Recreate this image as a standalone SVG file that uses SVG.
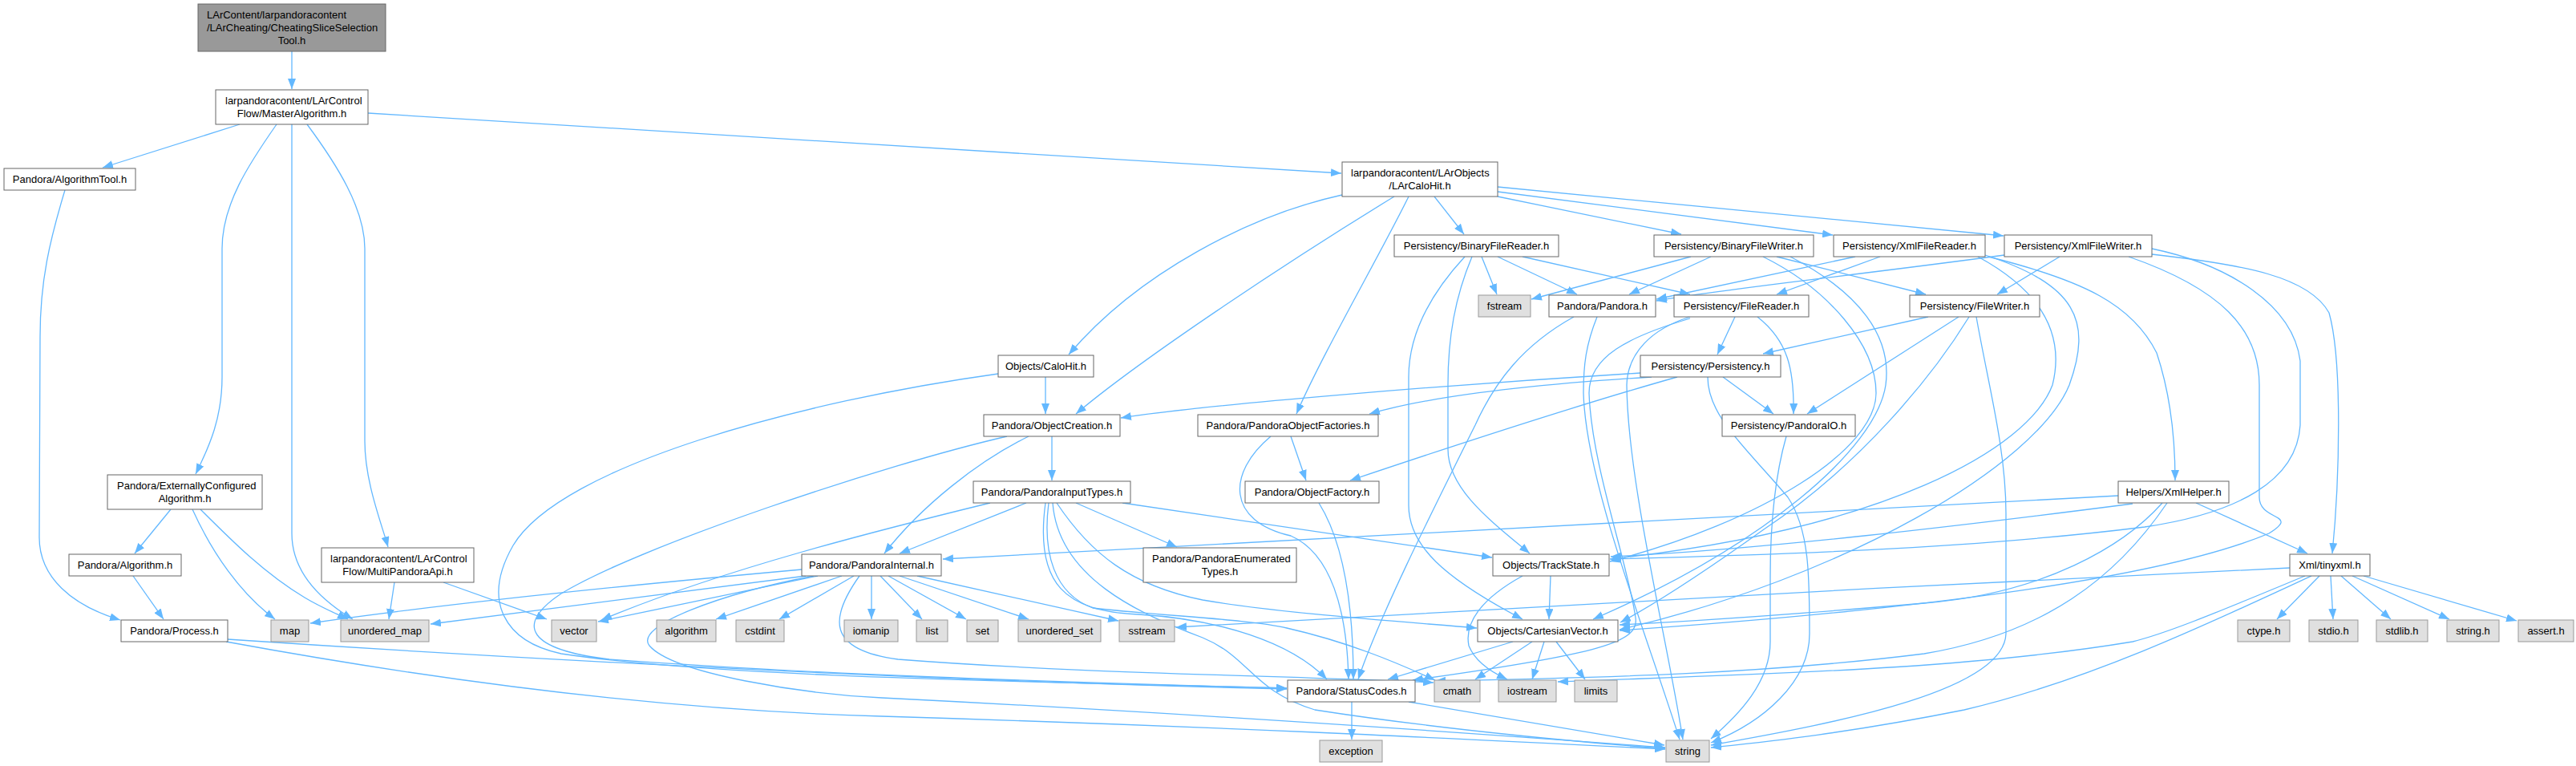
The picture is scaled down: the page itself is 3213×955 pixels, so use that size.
<svg xmlns="http://www.w3.org/2000/svg" width="3213" height="955" viewBox="0 0 3213 955">
<style>
text{font-family:"Liberation Sans",Arial,Helvetica,sans-serif;font-size:13px;fill:#000}
.m{text-anchor:middle}
.n rect{fill:#fff;stroke:#666;stroke-width:1}
.x rect{fill:#e0e0e0;stroke:#999;stroke-width:1}
.t rect{fill:#999;stroke:#666;stroke-width:1}
#edges path{fill:none;stroke:#63b8ff;stroke-width:1.3;marker-end:url(#a)}
</style>
<defs>
<marker id="a" markerUnits="userSpaceOnUse" markerWidth="13" markerHeight="10" viewBox="0 0 13 10" refX="13" refY="5" orient="auto"><path d="M0,0 L13,5 L0,10 z" fill="#63b8ff"/></marker>
</defs>
<rect x="0" y="0" width="3213" height="955" fill="#fff"/>
<g id="edges">
<path d="M364,64 L364,111"/>
<path d="M299,155 L128,209"/>
<path d="M345,155 C310,205 277,255 277,310 L277,470 C277,520 262,555 244,591"/>
<path d="M364,155 L364,665 C364,710 395,745 440,772"/>
<path d="M383,155 C420,205 455,260 455,310 L455,550 C455,600 475,650 484,682"/>
<path d="M459,141 L1673,216"/>
<path d="M81,237 C62,300 50,350 50,420 L49,670 C49,720 90,755 150,773"/>
<path d="M213,635 L168,690"/>
<path d="M240,635 C265,690 300,740 343,772"/>
<path d="M250,635 C290,675 330,715 380,745 C400,757 415,763 434,772"/>
<path d="M166,718 L204,772"/>
<path d="M284,797 C700,825 1200,850 1605,859"/>
<path d="M282,800 C500,840 800,885 1100,893 C1500,905 1800,920 2077,934"/>
<path d="M492,726 L485,772"/>
<path d="M553,726 L682,772"/>
<path d="M1674,243 C1560,268 1420,340 1333,442"/>
<path d="M1739,245 C1600,330 1420,450 1342,516"/>
<path d="M1757,245 C1720,320 1650,440 1617,516"/>
<path d="M1789,245 L1826,292"/>
<path d="M1868,245 L2097,292"/>
<path d="M1868,239 L2286,293"/>
<path d="M1868,233 L2499,294"/>
<path d="M1304,470 L1304,516"/>
<path d="M1245,466 C1000,500 700,580 640,680 C600,750 630,800 700,815 C900,845 1300,850 1605,858"/>
<path d="M1312,544 L1312,599"/>
<path d="M1283,544 C1220,575 1150,630 1103,690"/>
<path d="M1256,544 C1100,580 800,680 700,740 C640,780 660,810 760,822 C1000,840 1300,850 1605,858"/>
<path d="M1235,627 C1100,660 900,710 750,773"/>
<path d="M1280,627 L1122,690"/>
<path d="M1342,627 L1468,682"/>
<path d="M1400,627 L1861,695"/>
<path d="M1318,627 C1360,690 1410,730 1500,748 C1600,765 1750,775 1842,783"/>
<path d="M1308,627 C1300,690 1315,740 1363,758 C1450,768 1560,772 1605,783 C1680,800 1740,825 1790,848"/>
<path d="M1313,627 C1320,720 1420,765 1500,795 C1560,820 1560,860 1640,885 C1800,910 2000,928 2077,933"/>
<path d="M1304,627 C1290,730 1330,762 1420,766 C1520,772 1610,800 1655,847"/>
<path d="M1000,710 C800,728 560,752 387,777"/>
<path d="M1005,718 L537,778"/>
<path d="M1020,718 L746,775"/>
<path d="M1050,718 L893,772"/>
<path d="M1065,718 L972,772"/>
<path d="M1087,718 L1087,772"/>
<path d="M1098,718 L1150,772"/>
<path d="M1108,718 L1205,772"/>
<path d="M1122,718 L1283,772"/>
<path d="M1144,718 L1395,774"/>
<path d="M1015,718 C900,740 790,780 810,805 C840,840 1000,865 1100,870 C1500,890 1850,915 2077,932"/>
<path d="M1072,718 C1035,770 1030,810 1120,822 C1350,840 1600,842 1788,851"/>
<path d="M1610,544 L1629,599"/>
<path d="M1585,544 C1530,590 1530,650 1610,668 C1660,690 1680,760 1682,847"/>
<path d="M1645,627 C1678,680 1688,760 1688,847"/>
<path d="M1963,395 C1900,430 1865,475 1840,530 C1780,650 1720,770 1694,847"/>
<path d="M1686,875 L1686,922"/>
<path d="M1757,875 L2076,929"/>
<path d="M1827,320 C1790,360 1757,410 1757,470 L1757,630 C1757,680 1800,720 1899,772"/>
<path d="M1836,320 C1815,370 1806,420 1806,480 L1806,560 C1806,610 1860,650 1908,690"/>
<path d="M1848,320 L1867,367"/>
<path d="M1868,320 L1967,367"/>
<path d="M1899,320 L2108,367"/>
<path d="M2109,320 L1910,373"/>
<path d="M2134,320 L2032,367"/>
<path d="M2216,320 L2402,367"/>
<path d="M2199,320 C2280,360 2340,430 2340,490 C2340,560 2200,650 2008,700"/>
<path d="M2233,320 C2320,365 2360,420 2352,480 C2340,560 2200,680 1987,772"/>
<path d="M2314,320 L2066,373"/>
<path d="M2345,320 L2216,367"/>
<path d="M2467,320 C2550,365 2575,420 2560,480 C2530,560 2350,660 2008,697"/>
<path d="M2476,318 C2590,355 2610,400 2581,480 C2540,580 2300,720 2020,785"/>
<path d="M2480,320 C2600,350 2660,380 2690,440 C2710,500 2713,560 2713,599"/>
<path d="M2500,318 C2300,345 2150,360 2066,375"/>
<path d="M2569,320 L2491,367"/>
<path d="M2684,310 C2780,330 2860,380 2869,450 L2869,530 C2865,600 2790,640 2675,657 C2450,685 2200,692 2009,697"/>
<path d="M2655,320 C2770,360 2818,410 2818,480 L2818,620 C2818,650 2870,640 2830,665 C2700,720 2400,760 2020,786"/>
<path d="M2684,317 C2800,330 2880,345 2905,390 C2922,450 2918,600 2909,690"/>
<path d="M2642,618 L1176,697"/>
<path d="M2660,628 C2450,655 2200,685 2009,694"/>
<path d="M2697,627 C2650,680 2550,740 2400,752 C2250,765 2100,775 2020,779"/>
<path d="M2703,627 C2640,720 2550,790 2400,815 C2200,840 2000,845 1790,849"/>
<path d="M2739,627 L2878,690"/>
<path d="M2856,708 C2400,730 1800,760 1467,782"/>
<path d="M2875,718 C2750,770 2700,790 2660,800 C2450,835 2200,840 1943,850"/>
<path d="M2883,718 C2750,780 2600,850 2450,885 C2300,915 2200,925 2134,932"/>
<path d="M2893,718 L2840,772"/>
<path d="M2907,718 L2910,772"/>
<path d="M2920,718 L2982,772"/>
<path d="M2934,718 L3055,772"/>
<path d="M2948,718 L3139,774"/>
<path d="M1887,800 L1731,847"/>
<path d="M1911,800 L1840,847"/>
<path d="M1926,800 L1911,847"/>
<path d="M1941,800 L1977,847"/>
<path d="M1934,718 L1932,772"/>
<path d="M1899,718 C1850,745 1826,775 1832,805 C1840,825 1860,838 1880,847"/>
<path d="M2164,395 L2142,442"/>
<path d="M2192,395 C2230,425 2238,460 2237,516"/>
<path d="M2108,395 C2060,410 2030,440 2029,480 C2030,600 2080,800 2099,922"/>
<path d="M2108,397 C2030,420 1982,445 1982,490 C1985,580 2030,700 2040,770 C2045,800 2000,815 1762,848"/>
<path d="M1992,395 C1978,430 1975,455 1975,490 C1978,600 2050,780 2095,922"/>
<path d="M2405,395 L2199,441"/>
<path d="M2443,395 L2254,516"/>
<path d="M2456,395 C2410,470 2320,580 2200,660 C2130,710 2070,750 2021,776"/>
<path d="M2465,395 C2480,480 2502,560 2502,640 L2502,790 C2500,860 2300,900 2134,929"/>
<path d="M2046,465 C1800,480 1500,505 1398,521"/>
<path d="M2060,470 C1900,480 1780,495 1708,516"/>
<path d="M2092,470 C1950,510 1800,560 1684,599"/>
<path d="M2149,470 L2212,516"/>
<path d="M2130,470 C2130,520 2180,560 2230,620 C2257,660 2257,720 2257,790 C2257,850 2200,900 2134,926"/>
<path d="M2228,544 C2212,600 2208,660 2208,720 L2208,800 C2208,850 2170,890 2134,921"/>
</g>
<g id="n_top" class="t"><rect x="247" y="5" width="234" height="59"/><text x="258" y="23">LArContent/larpandoracontent</text><text x="258" y="39">/LArCheating/CheatingSliceSelection</text><text class="m" x="364" y="55">Tool.h</text></g>
<g id="n_master" class="n"><rect x="269" y="112" width="190" height="43"/><text x="281" y="130">larpandoracontent/LArControl</text><text class="m" x="364" y="146">Flow/MasterAlgorithm.h</text></g>
<g id="n_algtool" class="n"><rect x="5" y="210" width="164" height="27"/><text class="m" x="87" y="228">Pandora/AlgorithmTool.h</text></g>
<g id="n_larcalohit" class="n"><rect x="1674" y="202" width="194" height="43"/><text x="1685" y="220">larpandoracontent/LArObjects</text><text class="m" x="1771" y="236">/LArCaloHit.h</text></g>
<g id="n_extconf" class="n"><rect x="134" y="592" width="193" height="43"/><text x="146" y="610">Pandora/ExternallyConfigured</text><text class="m" x="230.5" y="626">Algorithm.h</text></g>
<g id="n_algorithm" class="n"><rect x="86" y="691" width="140" height="27"/><text class="m" x="156" y="709">Pandora/Algorithm.h</text></g>
<g id="n_process" class="n"><rect x="151" y="773" width="133" height="27"/><text class="m" x="217.5" y="791">Pandora/Process.h</text></g>
<g id="n_map" class="x"><rect x="338" y="773" width="47" height="27"/><text class="m" x="361.5" y="791">map</text></g>
<g id="n_umap" class="x"><rect x="425" y="773" width="110" height="27"/><text class="m" x="480" y="791">unordered_map</text></g>
<g id="n_multipandora" class="n"><rect x="401" y="683" width="190" height="43"/><text x="412" y="701">larpandoracontent/LArControl</text><text class="m" x="496" y="717">Flow/MultiPandoraApi.h</text></g>
<g id="n_vector" class="x"><rect x="688" y="773" width="56" height="27"/><text class="m" x="716" y="791">vector</text></g>
<g id="n_algorithmstd" class="x"><rect x="819" y="773" width="74" height="27"/><text class="m" x="856" y="791">algorithm</text></g>
<g id="n_cstdint" class="x"><rect x="918" y="773" width="60" height="27"/><text class="m" x="948" y="791">cstdint</text></g>
<g id="n_iomanip" class="x"><rect x="1053" y="773" width="67" height="27"/><text class="m" x="1086.5" y="791">iomanip</text></g>
<g id="n_list" class="x"><rect x="1143" y="773" width="39" height="27"/><text class="m" x="1162.5" y="791">list</text></g>
<g id="n_set" class="x"><rect x="1206" y="773" width="39" height="27"/><text class="m" x="1225.5" y="791">set</text></g>
<g id="n_uset" class="x"><rect x="1270" y="773" width="103" height="27"/><text class="m" x="1321.5" y="791">unordered_set</text></g>
<g id="n_sstream" class="x"><rect x="1396" y="773" width="69" height="27"/><text class="m" x="1430.5" y="791">sstream</text></g>
<g id="n_pinternal" class="n"><rect x="1000" y="691" width="174" height="27"/><text class="m" x="1087" y="709">Pandora/PandoraInternal.h</text></g>
<g id="n_objcreation" class="n"><rect x="1227" y="517" width="170" height="27"/><text class="m" x="1312" y="535">Pandora/ObjectCreation.h</text></g>
<g id="n_inputtypes" class="n"><rect x="1214" y="600" width="196" height="27"/><text class="m" x="1312" y="618">Pandora/PandoraInputTypes.h</text></g>
<g id="n_enumtypes" class="n"><rect x="1426" y="683" width="191" height="43"/><text x="1437" y="701">Pandora/PandoraEnumerated</text><text class="m" x="1521.5" y="717">Types.h</text></g>
<g id="n_objfactories" class="n"><rect x="1494" y="517" width="225" height="27"/><text class="m" x="1606.5" y="535">Pandora/PandoraObjectFactories.h</text></g>
<g id="n_objfactory" class="n"><rect x="1553" y="600" width="167" height="27"/><text class="m" x="1636.5" y="618">Pandora/ObjectFactory.h</text></g>
<g id="n_calohit" class="n"><rect x="1245" y="443" width="119" height="27"/><text class="m" x="1304.5" y="461">Objects/CaloHit.h</text></g>
<g id="n_statuscodes" class="n"><rect x="1606" y="848" width="159" height="27"/><text class="m" x="1685.5" y="866">Pandora/StatusCodes.h</text></g>
<g id="n_exception" class="x"><rect x="1646" y="923" width="78" height="27"/><text class="m" x="1685" y="941">exception</text></g>
<g id="n_string" class="x"><rect x="2078" y="923" width="54" height="27"/><text class="m" x="2105" y="941">string</text></g>
<g id="n_cmath" class="x"><rect x="1789" y="848" width="57" height="27"/><text class="m" x="1817.5" y="866">cmath</text></g>
<g id="n_iostream" class="x"><rect x="1869" y="848" width="72" height="27"/><text class="m" x="1905" y="866">iostream</text></g>
<g id="n_limits" class="x"><rect x="1964" y="848" width="53" height="27"/><text class="m" x="1990.5" y="866">limits</text></g>
<g id="n_trackstate" class="n"><rect x="1862" y="691" width="145" height="27"/><text class="m" x="1934.5" y="709">Objects/TrackState.h</text></g>
<g id="n_cartesian" class="n"><rect x="1843" y="773" width="175" height="27"/><text class="m" x="1930.5" y="791">Objects/CartesianVector.h</text></g>
<g id="n_bfreader" class="n"><rect x="1739" y="293" width="205" height="27"/><text class="m" x="1841.5" y="311">Persistency/BinaryFileReader.h</text></g>
<g id="n_fstream" class="x"><rect x="1844" y="368" width="65" height="27"/><text class="m" x="1876.5" y="386">fstream</text></g>
<g id="n_pandora" class="n"><rect x="1932" y="368" width="133" height="27"/><text class="m" x="1998.5" y="386">Pandora/Pandora.h</text></g>
<g id="n_filereader" class="n"><rect x="2088" y="368" width="168" height="27"/><text class="m" x="2172" y="386">Persistency/FileReader.h</text></g>
<g id="n_bfwriter" class="n"><rect x="2063" y="293" width="199" height="27"/><text class="m" x="2162.5" y="311">Persistency/BinaryFileWriter.h</text></g>
<g id="n_xmlreader" class="n"><rect x="2287" y="293" width="189" height="27"/><text class="m" x="2381.5" y="311">Persistency/XmlFileReader.h</text></g>
<g id="n_xmlwriter" class="n"><rect x="2500" y="293" width="184" height="27"/><text class="m" x="2592" y="311">Persistency/XmlFileWriter.h</text></g>
<g id="n_filewriter" class="n"><rect x="2382" y="368" width="162" height="27"/><text class="m" x="2463" y="386">Persistency/FileWriter.h</text></g>
<g id="n_persistency" class="n"><rect x="2046" y="443" width="175" height="27"/><text class="m" x="2133.5" y="461">Persistency/Persistency.h</text></g>
<g id="n_pandoraio" class="n"><rect x="2148" y="517" width="166" height="27"/><text class="m" x="2231" y="535">Persistency/PandoraIO.h</text></g>
<g id="n_xmlhelper" class="n"><rect x="2642" y="600" width="138" height="27"/><text class="m" x="2711" y="618">Helpers/XmlHelper.h</text></g>
<g id="n_tinyxml" class="n"><rect x="2856" y="691" width="100" height="27"/><text class="m" x="2906" y="709">Xml/tinyxml.h</text></g>
<g id="n_ctype" class="x"><rect x="2791" y="773" width="65" height="27"/><text class="m" x="2823.5" y="791">ctype.h</text></g>
<g id="n_stdio" class="x"><rect x="2880" y="773" width="61" height="27"/><text class="m" x="2910.5" y="791">stdio.h</text></g>
<g id="n_stdlib" class="x"><rect x="2964" y="773" width="64" height="27"/><text class="m" x="2996" y="791">stdlib.h</text></g>
<g id="n_stringh" class="x"><rect x="3052" y="773" width="65" height="27"/><text class="m" x="3084.5" y="791">string.h</text></g>
<g id="n_assert" class="x"><rect x="3141" y="773" width="69" height="27"/><text class="m" x="3175.5" y="791">assert.h</text></g>
</svg>
